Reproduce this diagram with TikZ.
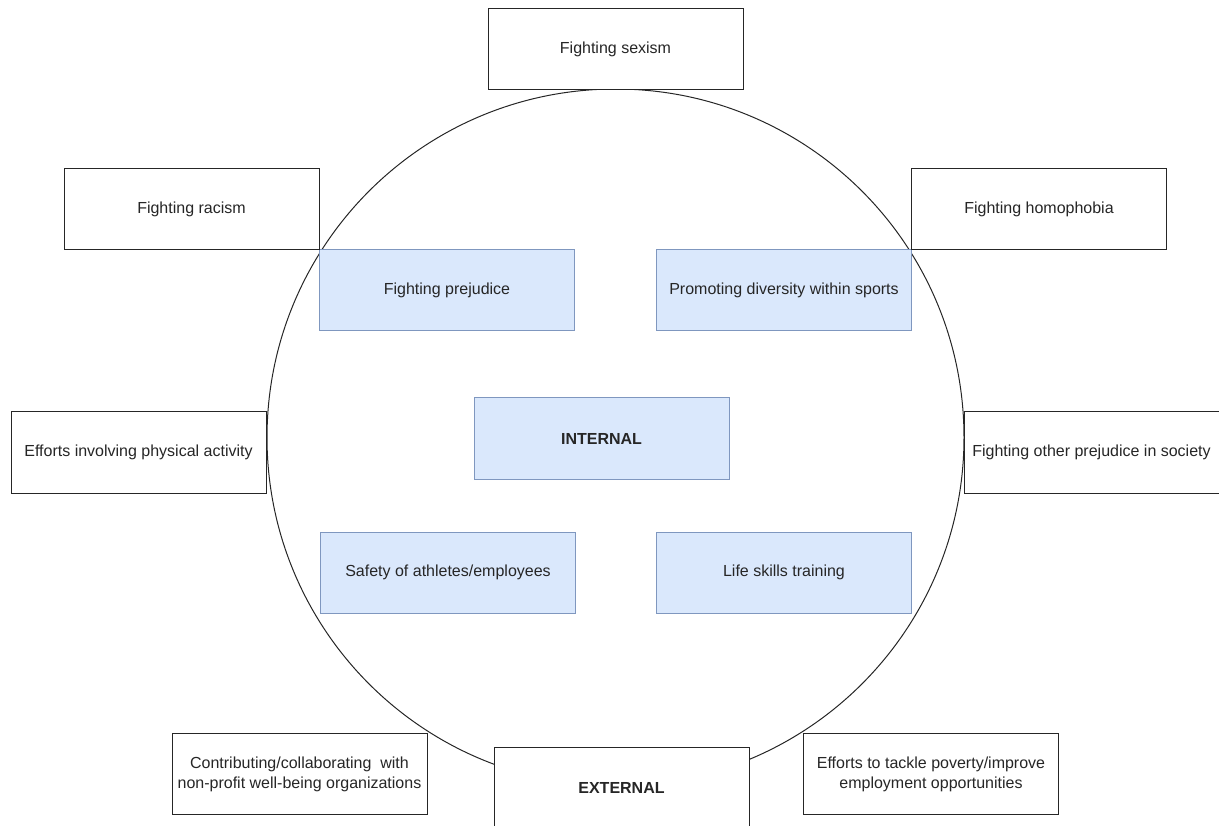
\documentclass[tikz,border=0pt]{standalone}
\usepackage{fontspec}
\setmainfont{Liberation Sans}
\definecolor{inblue}{HTML}{DAE8FC}
\definecolor{inline}{HTML}{7F97BF}

\begin{document}
\begin{tikzpicture}[x=1pt,y=-1pt,
box/.style={draw=black!85,fill=white,line width=1pt,minimum width=255pt,
minimum height=81pt,inner sep=0pt,align=center,text=black!85,
font=\fontsize{16}{20}\selectfont},
inbox/.style={box,draw=inline,fill=inblue}]

 \useasboundingbox (0,0) rectangle (1219,826);
 % the ring
 \coordinate (mid) at (615.5,437.5);
 \draw[line width=1pt,black!85] (mid) circle[radius=348.5];

 \begin{scope}
  \node[inbox] (prejudice) at (447,290.5) {Fighting prejudice};
  \node[inbox] (diversity) at (784,290.5) {Promoting diversity within sports};
  \node[inbox,font=\fontsize{16}{20}\selectfont\bfseries] (internal) at (601.5,438.5) {INTERNAL};
  \node[inbox] (safety) at (448,572.5) {Safety of athletes/employees};
  \node[inbox] (lifeskills) at (784,572.5) {Life skills training};
 \end{scope}
 %
 \begin{scope}
  \node[box] (sexism) at (615.5,49) {Fighting sexism};
  \node[box] (racism) at (191.5,209.5) {Fighting racism};
  \node[box] (homophobia) at (1039,209.5) {Fighting homophobia};
  \node[box] (physical) at (138.5,452.5) {Efforts involving physical activity};
  \node[box] (otherprej) at (1091.5,452.5) {Fighting other prejudice in society};
  \node[box] (collab) at (299.5,774) {Contributing/collaborating\ \ with\\non-profit well-being organizations};
  \node[box,font=\fontsize{16}{20}\selectfont\bfseries] (external) at (621.5,787.5) {EXTERNAL};
  \node[box] (poverty) at (931,774) {Efforts to tackle poverty/improve\\employment opportunities};
 \end{scope}
 %
\end{tikzpicture}
\end{document}
